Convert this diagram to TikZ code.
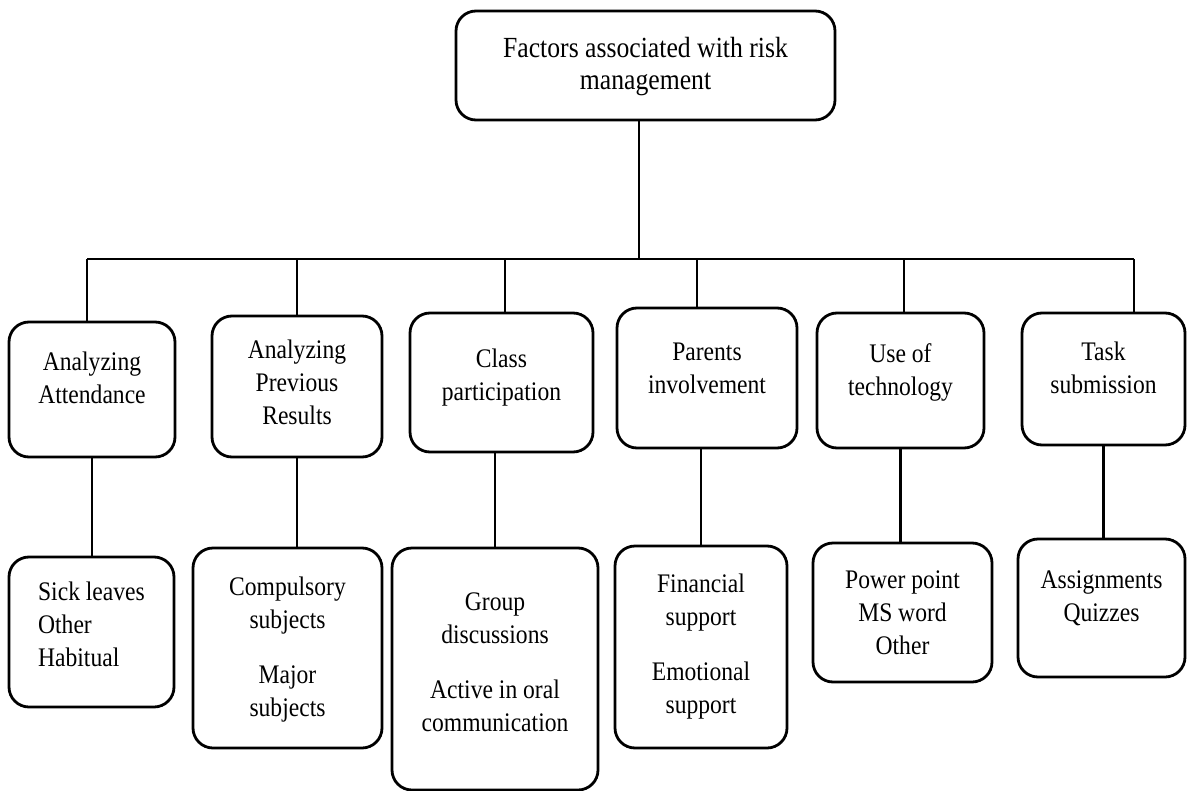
\documentclass[tikz,border=0pt]{standalone}
\usepackage{fontspec}
\setmainfont{Liberation Serif}[FakeStretch=0.88]
\usetikzlibrary{calc}

\begin{document}
\begin{tikzpicture}[
    x=0.5pt, y=-0.5pt,
    factor/.style={rectangle, rounded corners=10pt, draw=black, line width=1.4pt,
                   inner ysep=0pt, align=center, font=\fontsize{13.4}{16.5}\selectfont},
    link/.style={line width=1.4pt}
]
\useasboundingbox (0,0) rectangle (1187,791);

% root
\node[factor, minimum width=189.5pt, text height=39.5pt, text depth=15pt,
      font=\fontsize{14.6}{16}\selectfont] (risk) at (645.5,65.5)
      {Factors associated with risk\\management};

% factors
\node[factor, minimum width=83pt, text height=40.5pt, text depth=27pt] (attend) at (92,389.5) {Analyzing\\Attendance};
\node[factor, minimum width=85pt, text height=54pt, text depth=16.5pt] (results) at (297,386.5) {Analyzing\\Previous\\Results};
\node[factor, minimum width=91.5pt, text height=43.5pt, text depth=26pt] (classp) at (501.5,382.5) {Class\\participation};
\node[factor, minimum width=90pt, text height=42.5pt, text depth=27.5pt] (parents) at (707,378) {Parents\\involvement};
\node[factor, minimum width=83.5pt, text height=41pt, text depth=26.5pt] (tech) at (900.5,380.5) {Use of\\technology};
\node[factor, minimum width=81.5pt, text height=40pt, text depth=26pt] (task) at (1103.5,379) {Task\\submission};

% items
\node[factor, align=left, minimum width=82.5pt, text height=54.5pt, text depth=20.5pt] (leaves) at (91.5,632) {Sick leaves\\Other\\Habitual};
\node[factor, minimum width=94.5pt, text height=84pt, text depth=16pt] (subjects) at (287.5,648) {Compulsory\\subjects\\[11pt]Major\\subjects};
\node[factor, minimum width=103pt, text height=91.5pt, text depth=29.5pt] (groups) at (495,669) {Group\\discussions\\[11pt]Active in oral\\communication};
\node[factor, minimum width=86pt, text height=83.5pt, text depth=17.5pt] (support) at (701,647) {Financial\\support\\[11pt]Emotional\\support};
\node[factor, minimum width=89.5pt, text height=55.5pt, text depth=14pt] (tools) at (902.5,612.5) {Power point\\MS word\\Other};
\node[factor, minimum width=83.5pt, text height=41pt, text depth=28pt] (tasks) at (1101.5,608) {Assignments\\Quizzes};

% bus
\coordinate (hub) at (639,259);
\coordinate (busA) at (87,259);
\coordinate (busB) at (297,259);
\coordinate (busC) at (505,259);
\coordinate (busD) at (697,259);
\coordinate (busE) at (904,259);
\coordinate (busF) at (1134,259);

\draw[link] (hub |- risk.south) -- (hub);
\draw[link] (busA) -- (busF);
\draw[link] (busA) -- (busA |- attend.north);
\draw[link] (busB) -- (busB |- results.north);
\draw[link] (busC) -- (busC |- classp.north);
\draw[link] (busD) -- (busD |- parents.north);
\draw[link] (busE) -- (busE |- tech.north);
\draw[link] (busF) -- (busF |- task.north);

\draw[link] (attend.south) -- (attend.south |- leaves.north);
\draw[link] (results.south) -- (results.south |- subjects.north);
\draw[link] (groups.north) -- (groups.north |- classp.south);
\draw[link] (support.north) -- (support.north |- parents.south);
\draw[link] (tech.south) -- (tech.south |- tools.north);
\draw[link] (task.south) -- (task.south |- tasks.north);
\end{tikzpicture}
\end{document}
